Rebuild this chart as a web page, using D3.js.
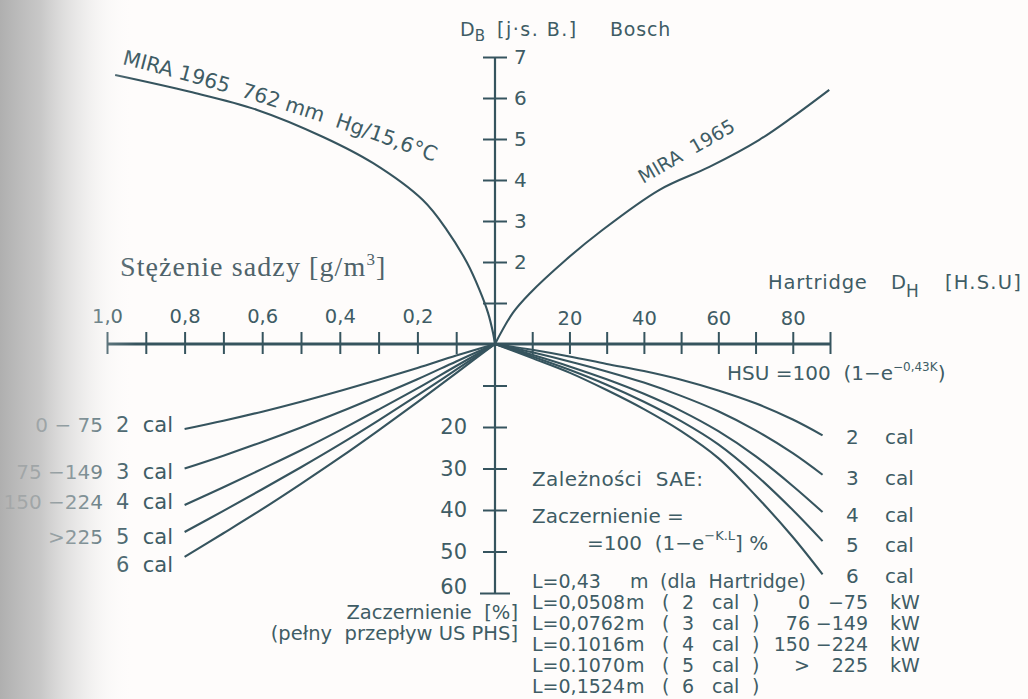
<!DOCTYPE html>
<html>
<head>
<meta charset="utf-8">
<script src="https://cdn.jsdelivr.net/npm/d3@7"></script>
<style>
body { margin: 0; background: #fefcfb; }
svg { display: block; }
text { font-family: "DejaVu Sans", sans-serif; fill: #3f5c65; white-space: pre; }
</style>
</head>
<body>
<script>
// ---- data ----
// axis ticks
const concTicks = [0.1, 0.2, 0.3, 0.4, 0.5, 0.6, 0.7, 0.8, 0.9, 1.0]
const concLabels = [0.2, 0.4, 0.6, 0.8, 1.0]
const hsuTicks = [10, 20, 30, 40, 50, 60, 70, 80, 90]
const hsuLabels = [20, 40, 60, 80]
const boschTicks = [1, 2, 3, 4, 5, 6, 7]
const boschLabels = [2, 3, 4, 5, 6, 7]
const opacTicks = [10, 20, 30, 40, 50, 60]
const opacLabels = [20, 30, 40, 50, 60]

// upper left: MIRA 1965 762 mm Hg/15,6°C  (soot g/m3 -> Bosch)
const miraConc = [0, 0.005, 0.018, 0.04, 0.072, 0.124, 0.186, 0.314, 0.443, 0.613, 0.786, 0.979]
const miraConcBosch = [0, 0.27, 0.76, 1.32, 1.98, 2.78, 3.51, 4.41, 5.05, 5.71, 6.15, 6.56]

// upper right: MIRA 1965  (Hartridge -> Bosch)
const miraHsu = [0, 4.8, 9.4, 19, 28, 44.2, 57.6, 71, 80, 89.8]
const miraHsuBosch = [0, 0.76, 1.24, 2.05, 2.72, 3.76, 4.32, 4.98, 5.54, 6.2]

// lower left: soot g/m3 -> opacity % per pipe size
const concSteps = [0, 0.1, 0.2, 0.3, 0.4, 0.5, 0.6, 0.7, 0.8]
const left2cal = [0, 2.8, 5.8, 8.6, 11.3, 13.9, 16.3, 18.5, 20.5]
const left3cal = [0, 4.2, 8.5, 12.5, 16.4, 20.1, 23.6, 26.9, 30]
const left4cal = [0, 5.3, 10.7, 15.8, 20.8, 25.6, 30.1, 34.5, 38.8]
const left5cal = [0, 6.2, 12.4, 18.4, 24.2, 29.7, 35, 40.2, 45.3]
const left6cal = [0, 7, 14, 20.8, 27.4, 33.7, 39.8, 45.6, 51.3]

// lower right: Hartridge -> opacity % per pipe size
const hsuSteps = [0, 10, 20, 30, 40, 50, 60, 70, 80, 88]
const right2cal = [0, 1.4, 3.0, 4.8, 6.5, 8.6, 11.2, 14.3, 18.2, 22]
const right3cal = [0, 2.0, 4.2, 6.6, 9.3, 12.5, 16.2, 20.8, 26.3, 31.5]
const right4cal = [0, 2.6, 5.4, 8.5, 12, 16.1, 21, 27, 34.2, 40.5]
const right5cal = [0, 3.0, 6.2, 9.8, 13.9, 18.6, 24.2, 31.5, 40, 47.5]
const right6cal = [0, 3.4, 6.9, 11.1, 15.7, 21, 27.5, 36.5, 46.5, 55.5]

const calNames = ["2", "3", "4", "5", "6"]
const powerRanges = ["0 − 75", "75 −149", "150 −224", ">225", ""]
const lValues = ["L=0,43", "L=0,0508", "L=0,0762", "L=0.1016", "L=0.1070", "L=0,1524"]
const kwLow = ["0", "76", "150", ">"]
const kwHigh = ["−75", "−149", "−224", "225"]

var ink = "#36545e"
var W = 1028, H = 699

var svg = d3.select("body").append("svg")
    .attr("width", W)
    .attr("height", H)

// scan shadow on the left edge (drawn later on top)
var defs = svg.append("defs")
var grad = defs.append("linearGradient").attr("id", "shade")
    .attr("x1", 0).attr("x2", 1).attr("y1", 0).attr("y2", 0)
grad.append("stop").attr("offset", "0%").attr("stop-color", "#ababab").attr("stop-opacity", 0.95)
grad.append("stop").attr("offset", "30%").attr("stop-color", "#b9b9b9").attr("stop-opacity", 0.78)
grad.append("stop").attr("offset", "60%").attr("stop-color", "#d6d6d6").attr("stop-opacity", 0.45)
grad.append("stop").attr("offset", "82%").attr("stop-color", "#eeeeee").attr("stop-opacity", 0.18)
grad.append("stop").attr("offset", "100%").attr("stop-color", "#ffffff").attr("stop-opacity", 0)

// scales, all sharing the origin
var xConc = d3.scaleLinear().domain([0, 1]).range([495, 107])
var xHsu = d3.scaleLinear().domain([0, 90]).range([495, 830])
var yBosch = d3.scaleLinear().domain([0, 7]).range([344, 57])
var yOpac = d3.scaleLinear().domain([0, 60]).range([344, 593])

var comma = d => d3.format(".1f")(d).replace(".", ",")

function styleAxis(g) {
    g.select(".domain").remove()
    g.attr("font-family", null).attr("font-size", null)
    g.selectAll(".tick line").attr("stroke", ink).attr("stroke-width", 2)
    g.selectAll(".tick text").style("font-size", "19.5px").attr("fill", "#3f5c65")
}

// main axis lines
svg.append("line")
    .attr("x1", xConc(1)).attr("x2", xHsu(90))
    .attr("y1", yBosch(0)).attr("y2", yBosch(0))
    .attr("stroke", ink).attr("stroke-width", 3)
svg.append("line")
    .attr("x1", xConc(0)).attr("x2", xConc(0))
    .attr("y1", yBosch(7)).attr("y2", yOpac(60))
    .attr("stroke", ink).attr("stroke-width", 2.2)

// soot concentration axis (left)
svg.append("g")
    .attr("transform", "translate(0," + yBosch(0) + ")")
    .call(d3.axisTop(xConc).tickValues(concTicks).tickSize(11)
        .tickFormat(d => concLabels.includes(d) ? comma(d) : ""))
    .call(styleAxis)
    .call(g => g.selectAll(".tick line").attr("y1", -12).attr("y2", 10))
    .call(g => g.selectAll(".tick text").attr("y", -21).attr("dy", 0))

// Hartridge axis (right)
svg.append("g")
    .attr("transform", "translate(0," + yBosch(0) + ")")
    .call(d3.axisTop(xHsu).tickValues(hsuTicks).tickSize(11)
        .tickFormat(d => hsuLabels.includes(d) ? d : ""))
    .call(styleAxis)
    .call(g => g.selectAll(".tick line").attr("y1", -12).attr("y2", 10))
    .call(g => g.selectAll(".tick text").attr("y", -19).attr("dy", 0))

// Bosch axis (up)
svg.append("g")
    .attr("transform", "translate(" + xConc(0) + ",0)")
    .call(d3.axisRight(yBosch).tickValues(boschTicks).tickSize(12)
        .tickFormat(d => boschLabels.includes(d) ? d : ""))
    .call(styleAxis)
    .call(g => g.selectAll(".tick line").attr("x1", -12).attr("x2", 12))
    .call(g => g.selectAll(".tick text").attr("x", 19).style("font-size", "20px"))

// opacity axis (down)
svg.append("g")
    .attr("transform", "translate(" + xConc(0) + ",0)")
    .call(d3.axisLeft(yOpac).tickValues(opacTicks).tickSize(12)
        .tickFormat(d => opacLabels.includes(d) ? d : ""))
    .call(styleAxis)
    .call(g => g.selectAll(".tick line").attr("x1", d => d == 60 ? -15 : -12).attr("x2", d => d == 60 ? 15 : 12))
    .call(g => g.selectAll(".tick text").attr("x", -28).style("font-size", "21px"))
    .call(g => g.selectAll(".tick text").filter(d => d == 60).attr("dy", "0em"))

// ---- curves ----
var curves = svg.append("g")
    .attr("fill", "none")
    .attr("stroke", ink)
    .attr("stroke-width", 2.1)

var lineConcBosch = d3.line()
    .x(d => xConc(d[0]))
    .y(d => yBosch(d[1]))
    .curve(d3.curveCatmullRom.alpha(0.5))
var lineHsuBosch = d3.line()
    .x(d => xHsu(d[0]))
    .y(d => yBosch(d[1]))
    .curve(d3.curveCatmullRom.alpha(0.5))
var lineConcOpac = d3.line()
    .x(d => xConc(d[0]))
    .y(d => yOpac(d[1]))
    .curve(d3.curveCatmullRom.alpha(0.5))
var lineHsuOpac = d3.line()
    .x(d => xHsu(d[0]))
    .y(d => yOpac(d[1]))
    .curve(d3.curveCatmullRom.alpha(0.5))

curves.append("path").attr("d", lineConcBosch(d3.zip(miraConc, miraConcBosch)))
curves.append("path").attr("d", lineHsuBosch(d3.zip(miraHsu, miraHsuBosch)))

var leftSeries = [left2cal, left3cal, left4cal, left5cal, left6cal]
var rightSeries = [right2cal, right3cal, right4cal, right5cal, right6cal]

leftSeries.forEach(s => {
    curves.append("path").attr("d", lineConcOpac(d3.zip(concSteps, s)))
})
rightSeries.forEach(s => {
    curves.append("path").attr("d", lineHsuOpac(d3.zip(hsuSteps, s)))
})

// ---- texts ----
function label(x, y, str, size, anchor) {
    return svg.append("text")
        .attr("x", x).attr("y", y)
        .attr("text-anchor", anchor || "start")
        .style("font-size", (size || 20) + "px")
        .text(str)
}

// title of the Bosch axis
var t = svg.append("text").attr("x", 460).attr("y", 36).style("font-size", "19px")
t.append("tspan").text("D")
t.append("tspan").attr("dy", 5).style("font-size", "15px").text("B")
t.append("tspan").attr("x", 497).attr("dy", -5).style("letter-spacing", "1.5px").text("[j·s. B.]")
t.append("tspan").attr("x", 610).style("letter-spacing", "0.8px").text("Bosch")

// MIRA label along upper left curve
defs.append("path").attr("id", "miraGuide").attr("d", "M118,63 Q282,104 450,168")
svg.append("text").style("font-size", "20.5px")
    .append("textPath").attr("href", "#miraGuide").attr("startOffset", 4)
    .text("MIRA 1965  762 mm  Hg/15,6°C")

// MIRA 1965 on the right curve
svg.append("text")
    .attr("transform", "translate(643,184) rotate(-30)")
    .style("font-size", "19px")
    .text("MIRA  1965")

// soot concentration heading
var s = svg.append("text").attr("x", 120).attr("y", 276)
    .style("font-family", "'Liberation Serif', serif").style("font-size", "28px")
    .style("letter-spacing", "1.1px")
    .style("fill", "#4f636a")
s.append("tspan").text("Stężenie sadzy [g/m")
s.append("tspan").attr("dy", -11).style("font-size", "17px").text("3")
s.append("tspan").attr("dy", 11).text("]")

// Hartridge heading
var h = svg.append("text").attr("x", 768).attr("y", 289).style("font-size", "19.5px")
h.append("tspan").style("letter-spacing", "0.8px").text("Hartridge")
h.append("tspan").attr("x", 891).text("D")
h.append("tspan").attr("dy", 8).style("font-size", "17px").text("H")
h.append("tspan").attr("x", 945).attr("dy", -8).style("letter-spacing", "1.2px").text("[H.S.U]")

// HSU formula
var f = svg.append("text").attr("x", 727).attr("y", 380).style("font-size", "20px")
f.append("tspan").text("HSU =100  (1−e")
f.append("tspan").attr("dy", -9).style("font-size", "12px").text("−0,43K")
f.append("tspan").attr("dy", 9).text(")")

// pipe size labels, right side
var rightLabelY = [444, 485, 522, 552, 583]
calNames.forEach((c, i) => {
    label(846, rightLabelY[i], c, 20)
    label(885, rightLabelY[i], "cal", 20)
})

// pipe size labels, left side
var leftLabelY = [432, 479, 509, 544, 572]
calNames.forEach((c, i) => {
    label(173, leftLabelY[i], c + "  cal", 21, "end")
    if (powerRanges[i]) label(103, leftLabelY[i], powerRanges[i], 20, "end")
})

// SAE relation
label(532, 486, "Zależności  SAE:", 20).style("letter-spacing", "0.4px")
label(532, 523, "Zaczernienie =", 20)
var z = svg.append("text").attr("x", 587).attr("y", 550).style("font-size", "20px")
z.append("tspan").text("=100  (1−e")
z.append("tspan").attr("dy", -10).style("font-size", "13px").text("−K.L")
z.append("tspan").attr("dy", 10).text("] %")

// opacity axis title
label(518, 619, "Zaczernienie  [%]", 19.5, "end")
label(518, 640, "(pełny  przepływ US PHS]", 19.5, "end")

// L values block
var rowY = [588, 609, 630, 651, 672, 693]
lValues.forEach((v, i) => {
    label(532, rowY[i], v, 19)
    label(i == 0 ? 630 : 626, rowY[i], "m", 19)
})
label(660, rowY[0], "(dla  Hartridge)", 19)
calNames.forEach((c, i) => {
    var ry = rowY[i + 1]
    label(662, ry, "(", 19)
    label(688, ry, c, 19, "middle")
    label(712, ry, "cal", 19)
    label(752, ry, ")", 19)
})
kwLow.forEach((v, i) => {
    var ry = rowY[i + 1]
    label(810, ry, v, 19, "end")
    label(868, ry, kwHigh[i], 19, "end")
    label(890, ry, "kW", 19)
})

// scan shadow overlay
svg.append("rect")
    .attr("x", 0).attr("y", 0)
    .attr("width", 136).attr("height", H)
    .attr("fill", "url(#shade)")
</script>
</body>
</html>
